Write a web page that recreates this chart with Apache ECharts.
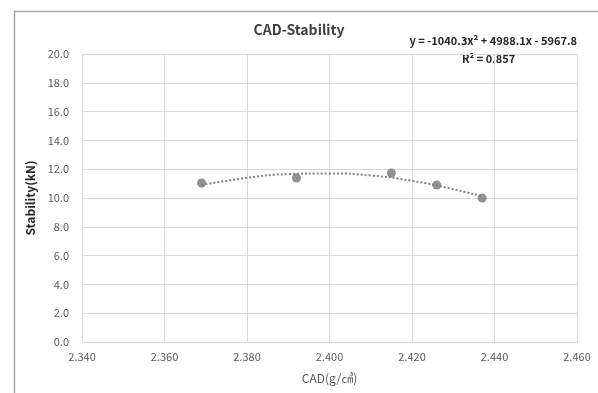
<!DOCTYPE html>
<html>

<head>
    <meta charset='utf-8'>
    <title>CAD-Stability</title>
    <script src='https://cdn.jsdelivr.net/npm/echarts@6/dist/echarts.min.js'></script>
    <style>
        html, body { margin: 0; padding: 0; background: #fff; }
        #chart { width: 598px; height: 393px; }
    </style>
</head>

<body>
    <div id='chart'></div>

    <script type='text/javascript'>
        // measured points
        const cad = [2.369, 2.392, 2.415, 2.426, 2.437]
        const stability = [11.04, 11.39, 11.74, 10.9, 10.0]

        // trendline
        const trendX = [2.369, 2.38, 2.39, 2.40, 2.41, 2.42, 2.43, 2.437]
        const trendY = [10.9, 11.4, 11.66, 11.71, 11.56, 11.19, 10.62, 10.1]

        const xTicks = { min: 2.34, max: 2.46, step: 0.02 }
        const yTicks = { min: 0, max: 20, step: 2 }

        const equation = 'y = -1040.3x² + 4988.1x - 5967.8'
        const rSquared = 'R² = 0.857'

        const font = '"Noto Sans CJK KR", "Noto Sans", sans-serif'
        const chart = echarts.init(document.getElementById('chart'))

        const option = {
            animation: false,
            textStyle: { fontFamily: font },
            title: {
                text: 'CAD-Stability',
                left: 'center',
                top: 18,
                textStyle: { fontSize: 14, fontWeight: 'bold', color: '#404040', fontFamily: font }
            },
            grid: { left: 82, right: 21, top: 54, bottom: 51 },
            xAxis: {
                type: 'value',
                min: xTicks.min,
                max: xTicks.max,
                interval: xTicks.step,
                name: 'CAD(g/㎤)',
                nameLocation: 'middle',
                nameGap: 30,
                nameMoveOverlap: false,
                nameTextStyle: { color: '#595959', fontSize: 12 },
                axisLine: { show: true, lineStyle: { color: '#d9d9d9' } },
                axisTick: { show: false },
                axisLabel: { color: '#595959', fontSize: 11, margin: 9, formatter: v => v.toFixed(3) },
                splitLine: { show: true, lineStyle: { color: '#d9d9d9' } }
            },
            yAxis: {
                type: 'value',
                min: yTicks.min,
                max: yTicks.max,
                interval: yTicks.step,
                name: 'Stability(kN)',
                nameLocation: 'middle',
                nameGap: 46,
                nameMoveOverlap: false,
                nameTextStyle: { color: '#262626', fontSize: 12, fontWeight: 'bold' },
                axisLine: { show: false },
                axisTick: { show: false },
                axisLabel: { color: '#595959', fontSize: 11, margin: 13, formatter: v => v.toFixed(1) },
                splitLine: { show: true, lineStyle: { color: '#d9d9d9' } }
            },
            graphic: [
                {
                    type: 'rect',
                    left: 12, top: 9, silent: true,
                    shape: { width: 620, height: 420 },
                    style: { fill: 'none', stroke: '#a6a6a6', lineWidth: 1.5 }
                },
                {
                    type: 'text',
                    right: 21, top: 35,
                    style: { text: equation, fill: '#262626', font: 'bold 11px ' + font }
                },
                {
                    type: 'text',
                    left: 462, top: 53,
                    style: { text: rSquared, fill: '#262626', font: 'bold 11px ' + font }
                }
            ],
            series: [
                {
                    type: 'line',
                    data: trendX.map((x, i) => [x, trendY[i]]),
                    smooth: true,
                    symbol: 'none',
                    lineStyle: { color: '#808080', width: 2, type: [2, 2] },
                    z: 2
                },
                {
                    type: 'scatter',
                    data: cad.map((x, i) => [x, stability[i]]),
                    symbolSize: 9,
                    itemStyle: { color: '#777777' },
                    z: 3
                }
            ]
        }
        chart.setOption(option)
    </script>
</body>

</html>
